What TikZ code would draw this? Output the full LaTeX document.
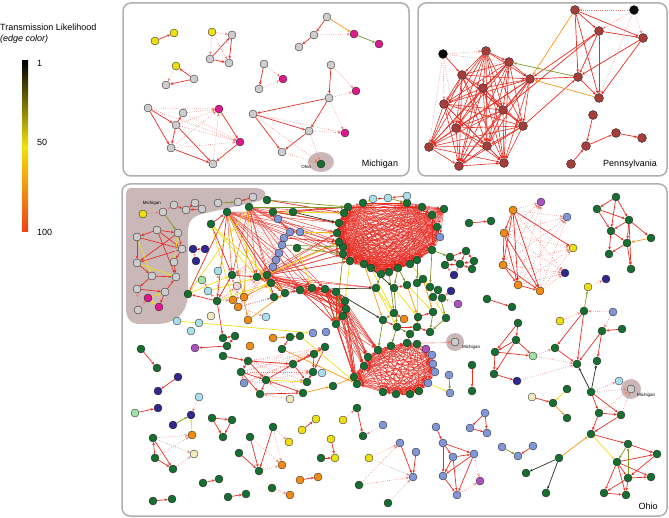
\documentclass[tikz,border=0pt]{standalone}
\usepackage{fontspec}
\setmainfont{Liberation Sans}
\usetikzlibrary{arrows.meta}
\definecolor{gn}{RGB}{22,110,48}
\definecolor{gy}{RGB}{205,205,205}
\definecolor{yl}{RGB}{238,222,20}
\definecolor{mg}{RGB}{222,25,140}
\definecolor{pa}{RGB}{165,62,58}
\definecolor{bk}{RGB}{10,10,10}
\definecolor{lb}{RGB}{170,222,236}
\definecolor{sb}{RGB}{128,150,214}
\definecolor{nv}{RGB}{48,40,140}
\definecolor{or}{RGB}{240,140,20}
\definecolor{pu}{RGB}{172,82,192}
\definecolor{lg}{RGB}{160,226,166}
\definecolor{cr}{RGB}{242,232,188}
\definecolor{pk}{RGB}{240,214,214}
\definecolor{ered}{RGB}{232,45,35}
\definecolor{eorange}{RGB}{248,150,20}
\definecolor{eyellow}{RGB}{240,222,20}
\definecolor{eolive}{RGB}{128,150,40}
\definecolor{edark}{RGB}{45,50,30}
\definecolor{barlow}{RGB}{236,66,24}
\definecolor{barmid}{RGB}{242,226,10}
\definecolor{framegray}{RGB}{175,175,175}
\definecolor{blobc}{RGB}{202,184,184}
\pgfdeclarelayer{back}
\pgfdeclarelayer{mid}
\pgfsetlayers{back,mid,main}
\tikzset{
     nd/.style = { circle, draw=black!85, line width=0.35pt, inner sep=0pt, minimum size=8pt },
    big/.style = { minimum size=9pt },
     ln/.style = { line width=0.7pt, -{Stealth[length=3pt,width=2.6pt]} },
     er/.style = { ln, draw=ered },
     ec/.style = { ln, draw=ered, line width=0.4pt },
     ep/.style = { ln, draw=ered, line width=0.6pt },
     eo/.style = { ln, draw=eorange },
     ey/.style = { ln, draw=eyellow },
     ev/.style = { ln, draw=eolive },
     ek/.style = { ln, draw=edark },
     ed/.style = { ln, draw=ered!65, line width=0.6pt, dash pattern=on 0.6pt off 1.6pt },
  panel/.style = { draw=framegray, line width=1.5pt, rounded corners=8pt },
  title/.style = { font=\fontsize{9}{10}\selectfont, inner sep=0pt },
   tiny/.style = { font=\fontsize{4.5}{5}\selectfont, inner sep=0pt }
}
\begin{document}
\begin{tikzpicture}[x=1pt,y=-1pt]
  \useasboundingbox (0,0) rectangle (669,518);
  % legend
  \node[title, anchor=base west] (lt) at (0,31) {Transmission Likelihood};
  \node[title, anchor=base west, font=\fontsize{9}{10}\selectfont\itshape] (le) at (0,42) {(edge color)};
  \shade[top color=black, bottom color=barlow, middle color=barmid] (22,61) rectangle (28,232);
  \node[title, anchor=west] (l1t) at (37,63) {1};
  \node[title, anchor=west] (l50) at (37,142) {50};
  \node[title, anchor=west] (l100) at (37,232) {100};

  % panels and blobs
  \begin{pgfonlayer}{back}
    \draw[panel] (123,3) rectangle (409,176);
    \draw[panel] (418,3) rectangle (667,176);
    \draw[panel] (122,184) rectangle (667,516);
    \fill[blobc] (130,188) -- (255,188) .. controls (269,188) and (269,200) .. (255,202)
      -- (202,214) .. controls (191,217) and (188,222) .. (188,234) -- (188,292)
      .. controls (188,313) and (176,324) .. (156,324) -- (140,324)
      .. controls (130,324) and (126,318) .. (126,308) -- (126,196)
      .. controls (126,190) and (128,188) .. (130,188) -- cycle;
    \fill[blobc] (321,162) ellipse [x radius=13, y radius=10];
    \fill[blobc] (455,342) circle [radius=9];
    \fill[blobc] (631,389) circle [radius=10];
  \end{pgfonlayer}
  \node[title] (mich) at (380,164) {Michigan};
  \node[title] (penn) at (630,164) {Pennsylvania};
  \node[title] (ohio) at (648,506) {Ohio};
  \node[tiny] (ohs) at (306,167) {Ohio};
  \node[tiny] (mis1) at (152,203) {Michigan};
  \node[tiny, anchor=west] (mis2) at (462,347) {Michigan};
  \node[tiny, anchor=west] (mis3) at (637,395) {Michigan};

  % Michigan panel
  \foreach \n/\x/\y/\c in {a1/155/41/yl, a2/174/33/yl, a3/212/32/yl, a4/232/35/gy, a5/210/59/gy,
      a6/229/63/gy, a7/327/17/gy, a8/314/35/gy, a9/299/47/gy, a10/354/34/mg, a11/379/44/mg,
      a12/176/66/yl, a13/194/79/gy, a14/166/85/gy, a15/264/64/gy, a16/283/79/mg, a17/259/89/gy,
      a18/331/65/gy, a19/356/91/mg, a20/329/98/gy, a21/253/114/gy, a22/309/131/gy, a23/345/133/mg,
      a24/282/152/gy, a25/321/164/gn, a26/148/108/gy, a27/183/113/gy, a28/219/109/mg,
      a29/176/125/gy, a30/240/142/mg, a31/171/148/gy, a32/213/164/gy}
    \node[nd, fill=\c] (\n) at (\x,\y) {};

  % Pennsylvania panel
  \foreach \n/\x/\y/\c in {p1/486/51/pa, p2/509/62/pa, p3/462/75/pa, p4/483/88/pa, p5/530/79/pa,
      p6/444/104/pa, p7/503/110/pa, p8/456/128/pa, p9/523/126/pa, p10/429/147/pa, p11/487/146/pa,
      p12/459/166/pa, p13/504/163/pa, pk/443/54/bk, q1/575/10/pa, q2/634/10/bk, q3/599/31/pa,
      q4/643/38/pa, q5/578/77/pa, q6/599/98/pa, s1/593/115/pa, s2/616/133/pa, s3/642/138/pa,
      s4/586/146/pa, s5/571/164/pa}
    \node[nd, big, fill=\c] (\n) at (\x,\y) {};

  % Ohio panel: Michigan group
  \foreach \n/\x/\y/\c in {b1/143/214/yl, b2/163/212/gy, b3/174/205/gy, b4/186/210/gy, b5/195/203/gy,
      b6/202/209/gy, b7/218/203/gy, b8/238/202/gy, b9/253/197/gy, b10/157/230/gy, b11/178/233/gy,
      b12/137/237/gy, b13/182/249/gy, b14/137/263/gy, b15/174/262/gy, b16/152/276/gy, b17/176/277/gy,
      b18/137/289/gy, b19/165/292/gy, b20/148/298/mg, b21/159/307/mg, b22/138/310/gy}
    \node[nd, fill=\c] (\n) at (\x,\y) {};

  % Ohio panel: Ohio cases
  \foreach \n/\x/\y in {c1/227/212, c2/249/207, c3/267/200, c4/273/212, c5/293/212, c6/211/224,
      c7/297/248, c8/232/275, c9/257/277, c10/267/275, c11/188/294, c12/217/301, c13/271/283,
      c14/285/293, c15/274/297, c16/300/290, c17/312/288, c18/290/337, c19/300/336, c20/223/338,
      c21/235/336, c22/227/346, c23/141/349, c24/282/349, c26/325/289, c27/336/292, c28/376/288,
      c29/394/288, c30/407/285, c31/417/283, c32/423/279, c33/430/287, c34/438/290, c35/433/297,
      c36/442/298, c37/345/301, c38/346/309, c39/343/316, c40/336/324, c41/394/313, c42/418/317,
      c43/433/312, c44/446/318, c45/383/320, c46/397/327, c47/417/327, c48/410/334, c49/430/332,
      c50/469/223, c51/491/221, c52/487/299, c53/512/307, c54/333/386, c55/314/354, c56/325/347,
      c57/313/372, c58/307/382, c59/303/393, c60/266/380, c61/293/364, c62/223/356, c63/248/361,
      c64/241/372, c65/260/394, c66/472/365, c67/472/391, c68/357/408, c69/363/436, c70/321/458,
      c71/359/485, c72/388/503, c73/157/368, c74/153/438, c75/155/458, c76/173/469, c77/212/418,
      c78/232/420, c79/223/437, c80/273/427, c81/250/437, c82/239/453, c83/259/471, c84/203/483,
      c85/219/479, c86/153/501, c87/172/499, c88/228/497, c89/246/494, c90/272/488,
      k1/450/257, k2/466/251, k3/474/261, k4/460/264, k5/445/265, k6/472/269,
      t1/616/197, t2/597/209, t3/629/220, t4/611/231, t5/627/243, t6/651/238, t7/609/254, t8/631/269,
      u1/584/311, u6/602/331, u7/622/329, u8/555/348, u9/518/323, u10/516/340, u11/495/352,
      u14/494/374, u17/577/364, u18/597/361, v2/553/403, v3/567/389, v4/567/418,
      w1/591/392, w2/599/413, w3/621/415, w6/591/434, w7/559/458, w8/526/473, w9/546/493,
      w10/628/444, w11/617/462, w12/657/454, w13/628/478, w14/651/477, w15/604/493, w16/626/495}
    \node[nd, fill=gn] (\n) at (\x,\y) {};
  % big cluster and lower cluster
  \foreach \n/\x/\y/\c in {r1/348/207/gn, r2/363/203/gn, r3/407/203/gn, r4/422/207/gn, r5/432/215/gn,
      r6/444/209/gn, r7/437/227/gn, r8/440/237/sb, r9/432/250/gn, r10/417/260/gn, r11/410/264/gn,
      r12/398/268/gn, r13/389/272/gn, r14/381/274/gn, r15/371/268/gn, r16/364/264/gn, r17/350/261/gn,
      r18/343/254/gn, r19/343/247/gn, r20/339/242/gn, r21/337/233/gn, r22/339/223/gn, r23/344/213/gn,
      l1/368/357/gn, l2/378/350/gn, l3/391/346/gn, l4/407/343/gn, l5/417/344/gn, l6/432/355/sb,
      l7/433/364/sb, l8/435/372/sb, l9/428/383/sb, l10/419/391/gn, l11/410/394/gn, l12/396/394/gn,
      l13/383/392/gn, l14/357/384/gn, l15/354/377/gn, l16/364/366/gn}
    \node[nd, fill=\c] (\n) at (\x,\y) {};
  % other colours
  \foreach \n/\x/\y/\c in {z1/373/199/lb, z2/388/198/lb, z3/407/196/lb, d1/218/271/lb, d2/208/291/lb,
      d3/266/317/lb, d4/177/321/lb, d5/199/323/lb, d6/191/331/lb, d7/322/373/lb, d8/199/397/lb,
      w4/619/381/lb, e1/278/219/sb, e2/290/232/sb, e3/300/232/sb, e4/284/238/sb, e5/282/245/sb,
      e6/279/253/sb, e7/276/260/sb, e8/273/267/sb, e9/313/333/sb, e10/326/332/sb, e12/244/383/sb,
      e13/449/375/sb, e14/450/393/sb, e15/383/425/sb, e16/400/443/sb, e17/416/452/sb, e18/413/477/sb,
      x1/502/447/sb, x2/518/456/sb, x3/533/446/sb, x4/485/413/sb, x5/470/428/sb, x6/487/433/sb,
      y1/436/427/sb, y2/443/443/sb, y3/453/457/sb, y4/474/454/sb, y5/443/476/sb, y6/457/495/sb,
      o3/567/217/sb, u5/613/312/sb, n1/193/249/nv, n2/205/249/nv, n3/196/261/nv, n4/454/275/nv,
      n5/451/291/nv, n6/178/377/nv, n7/158/391/nv, n8/158/408/nv, n9/191/415/nv, n10/173/425/nv,
      o7/565/273/nv, u3/606/279/nv, u15/517/381/nv, f1/233/300/or, f2/244/297/or, f3/238/307/or,
      f4/248/320/or, f5/273/338/or, f6/250/346/or, f8/404/319/or, f9/192/435/or, f10/282/465/or,
      f11/290/495/or, f12/318/477/or, f13/300/480/or, o1/513/210/or, o4/504/233/or, o6/503/265/or,
      o8/518/285/or, o9/540/291/or, h1/195/348/pu, h2/458/304/pu, h3/426/349/pu, y7/480/481/pu,
      o2/541/202/pu, g1/202/280/lg, g2/135/413/lg, u13/533/356/lg, j1/211/316/cr, j2/290/399/cr,
      j3/194/454/cr, v1/532/397/cr, j4/237/286/pk, yy1/343/420/yl, yy2/316/419/yl, yy3/302/430/yl,
      yy4/331/439/yl, yy5/335/458/yl, yy6/369/458/yl, yy7/289/442/yl, o5/573/248/yl, u2/588/287/yl,
      u4/560/321/yl, w5/631/389/gy, mi1/455/342/gy}
    \node[nd, fill=\c] (\n) at (\x,\y) {};

  \begin{pgfonlayer}{mid}
    % dense clusters
    \foreach \i [count=\k from 2] in {1,...,12}
      \foreach \j in {\k,...,13} \draw[ep] (p\i) -- (p\j);
    \foreach \i [count=\k from 2] in {1,...,22}
      \foreach \j in {\k,...,23} \draw[ec] (r\i) -- (r\j);
    \foreach \i [count=\k from 2] in {1,...,15}
      \foreach \j in {\k,...,16} \draw[ec] (l\i) -- (l\j);
    \foreach \ea in {c16,c17,c26,c27,c37,c38,c39,c40}
      \foreach \eb in {c16,c17,c26,c27,c37,c38,c39,c40} \draw[ec] (\ea) -- (\eb);
    \foreach \ea in {c1,c2}
      \foreach \eb in {r17,r18,r19,r20,r21,r22,r23,c8,c9,c10,c13,c16,c17,c26}
        \draw[ec] (\ea) -- (\eb);
    \foreach \ea in {c9,c10}
      \foreach \eb in {r17,r18,r19,r20,r21,c16,c17,c26,c27,c37,c38,c28,c14}
        \draw[ec] (\ea) -- (\eb);
    \foreach \ea in {c26,c27,c37,c38,c39,c40}
      \foreach \eb in {l1,l2,l14,l15,l16} \draw[ec] (\ea) -- (\eb);
    \foreach \ea in {o1,o4,o6,o8,o9}
      \foreach \eb in {o2,o3,o5,o7} \draw[ed] (\ea) -- (\eb);
    \foreach \eb in {c8,c9,c13,c15,e6,e7,e8,c16,c17,d3,c10,j4}
      \draw[ed] (f3) -- (\eb);
    \foreach \eb in {c8,c9,d1,j4,f1,f2,g1,d2}
      \draw[ed] (c12) -- (\eb);
    \foreach \ea in {e4,e5,e6,e7,e8}
      \foreach \eb in {c1,c2,c8,c9} \draw[ed] (\ea) -- (\eb);
    \foreach \ea in {c63,c64,e12}
      \foreach \eb in {c55,c56,c57,c58} \draw[ed] (\ea) -- (\eb);

    % solid red
    \foreach \ea/\eb in {a1/a2, a5/a4, a5/a6, a4/a6, a7/a8, a8/a9, a13/a12, a13/a14, a15/a17,
        a18/a20, a20/a21, a20/a22, a21/a22, a21/a24, a22/a24, a26/a29, a26/a31, a29/a27, a29/a31,
        a29/a32, a31/a32, a28/a30, a30/a32,
        pk/p3, q3/p5, q5/p5, p9/q5, p7/q3, q1/q3, q1/q5, q1/q6, q1/q4, q3/q4, q3/q5, q3/q6, q4/q5,
        q4/q6, q5/q6, s1/s4, s4/s2, s2/s3, s5/s4,
        b3/b4, b5/b4, b5/b6, b6/b4, b9/b8, b10/b12, b10/b11, b10/b13, b12/b14, b12/b13, b11/b13,
        b13/b15, b13/b14, b14/b16, b15/b17, b16/b17, b16/b18, b18/b19, b19/b17, b19/b21, b10/b17,
        b11/b14,
        c6/c1, c8/c12, c8/c9, c9/c13, c10/c15, c13/c14, c14/c16, c12/c11, c12/c20, c20/c21,
        c21/c22, c18/c19, c18/c24, c22/h1, c23/c73, e1/e2, e2/e3, e4/e5, e5/e6, e6/e7, e7/e8,
        e3/r21, e4/r20, n1/n2, c3/r23, c4/r22, c4/r1, c5/r1, c1/c11, c1/c12, c1/c14, c6/c8,
        c55/c56, c55/c57, c56/c57, c57/c58, c56/c61, c55/c61, c61/c58, c63/c64, c63/c60, c64/c60,
        c60/c61, c63/c61, c60/c65, c65/c59, c64/c65, c60/c59, c62/c63, c41/f8, c42/c43, c47/c49,
        c46/c47, c45/c46, z2/z1, z3/z2, z3/r3, c29/c30, c31/c32,
        k1/k2, k1/k4, k1/k5, k2/k3, k2/k4, k3/k4, k3/k6, k4/k6, k4/k5, c50/c51, c52/c53, c66/c67,
        c68/c69, yy3/yy2, yy4/yy5, c70/yy5, e16/e18, e17/e18, f13/f12,
        y1/y2, y2/y3, y2/y4, y2/y5, y3/y4, y3/y5, y4/y5, y4/y6, y5/y6, y3/y6,
        x3/x2, x4/x5, x5/x6, x4/x6, n6/n7, g2/n8, c74/c76, c75/c76, c75/c74, c77/c78, c77/c79,
        c78/c79, c80/c83, c81/c83, c82/c83, c84/c85, c86/c87, c88/c89,
        o1/o4, o1/o6, o1/o8, o1/o9, o4/o6, o4/o8, o4/o9, o6/o8, o6/o9, o8/o9, o1/o5,
        t1/t2, t1/t3, t1/t4, t2/t3, t2/t4, t3/t4, t3/t5, t3/t6, t4/t5, t4/t7, t5/t7, t5/t8, t3/t8,
        u7/u6, u6/u18, u6/u17, u1/u17, u1/u8, u8/u17, u9/u11, u9/u10, u10/u11, u10/u13, u11/u14,
        u11/u13, u14/u15, u10/u14, v1/v2,
        w1/w2, w1/w3, w2/w3, w2/w6, w3/w6, w6/w10, w11/w13, w11/w12, w11/w14, w11/w15, w11/w16,
        w13/w14, w13/w15, w13/w16, w12/w13, w15/w16, w10/w12}
      \draw[er] (\ea) -- (\eb);
    % orange
    \foreach \ea/\eb in {a7/a10, q1/p5, q6/p5, c54/l15, c59/c54, f5/c18, c24/l14, f4/c14, c32/c43,
        t6/t5, w7/w6, v2/v4, f2/c13, c1/f4, c2/f2, r16/c45, c30/c42}
      \draw[eo] (\ea) -- (\eb);
    % yellow
    \foreach \ea/\eb in {b12/b16, b14/b17, b15/b11, b20/b19, b21/b20, c6/c9, c11/c8, d2/c10, c12/c13,
        c60/c58, z1/r2, r15/c41, c28/c41, c29/c42, c30/c43, c33/c35, c35/c44, c34/c36, l9/e14,
        f9/n9, v3/v2, w6/w11, c4/r23, e2/r21, c10/r20, d4/e9, c7/c17, c19/l14, c2/c11, c6/c14,
        c1/c15, c6/f1, r17/c37, r11/c33, c28/c46, c31/c47}
      \draw[ey] (\ea) -- (\eb);
    % olive
    \foreach \ea/\eb in {a10/a11, q5/p2, b7/b8, b2/b11, c3/r1, c7/r18, e5/r19, r14/c28, r12/c29,
        r10/c31, r9/c33, r13/c41, c41/c45, c42/c47, c43/c49, c46/c48, c47/c48, c48/l4, c46/l3,
        c45/l2, c44/c49, r9/k1, e13/e14, x1/x2, n10/n9, u1/u2, w10/w11, w13/w10, z2/r3, c2/r1,
        r18/c40, r12/c30, c29/c46, c34/c44}
      \draw[ev] (\ea) -- (\eb);
    % dark
    \foreach \ea/\eb in {c5/r22, c26/c28, w1/u17, w1/u18, w7/w8, w7/w9, c27/c45, r15/c29}
      \draw[ek] (\ea) -- (\eb);
    % dotted
    \foreach \ea/\eb in {a3/a4, a3/a5, a3/a6, a8/a10, a12/a14, a15/a16, a17/a16, a18/a19, a20/a19,
        a20/a23, a22/a23, a21/a23, a22/a25, a24/a25, a21/a25, a26/a28, a27/a28, a29/a28, a29/a30,
        a31/a30, a31/a28, a27/a30, a32/a28, a26/a30,
        pk/p1, pk/p6, pk/p10, pk/p2, pk/p8, q2/q1, q2/q4, q2/q3, q2/q6,
        b1/b2, b2/b3, b22/b18, b22/b20,
        n3/n1, n4/k4, n4/k5, u2/u3, u4/u1, u13/u8, u13/u17, u15/u17, h3/l4, h3/l5, l5/mi1, l4/mi1,
        yy1/c68, e15/c69, yy6/e16, yy6/e18, c71/e16, c71/e18, c72/e18, y6/y7, y4/y7, d8/n9,
        c74/f9, c74/j3, c76/j3, c75/f9, c80/yy7, c81/f10, c83/f10, c80/f10, c90/f11, w1/w4,
        w3/w5, w1/w5, w2/w5, e12/c64, j2/c65, j2/c60, n5/c36, h2/c36, u5/u6, u5/u1}
      \draw[ed] (\ea) -- (\eb);
  \end{pgfonlayer}
\end{tikzpicture}
\end{document}
